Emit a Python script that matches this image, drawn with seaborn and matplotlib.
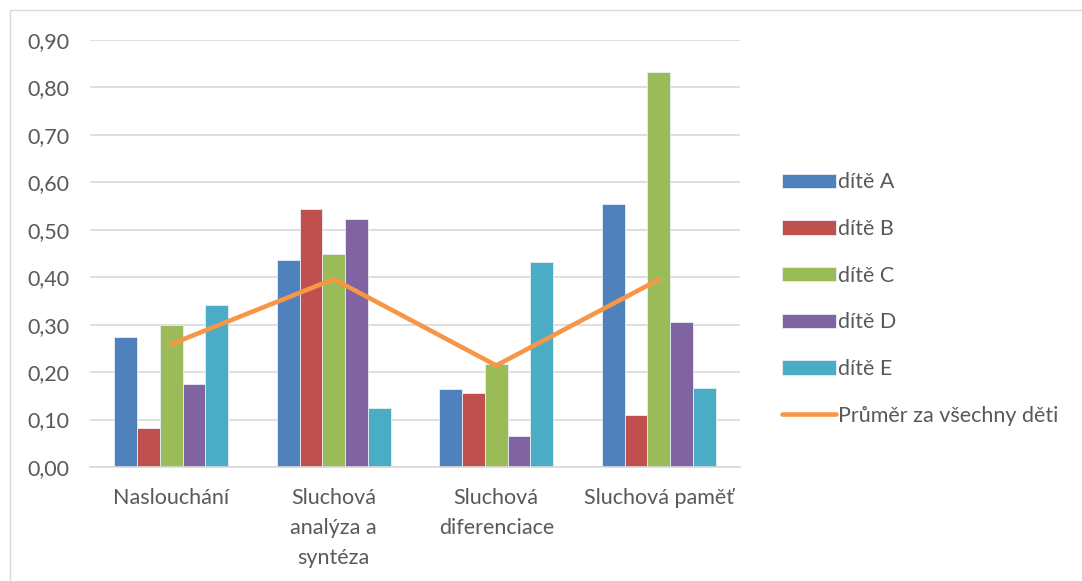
import numpy as np
import pandas as pd
import seaborn as sns
import matplotlib.pyplot as plt
from matplotlib.patches import Rectangle
from matplotlib.ticker import FuncFormatter

# data
kategorie = ["Naslouchání", "Sluchová\nanalýza a\nsyntéza", "Sluchová\ndiferenciace", "Sluchová paměť"]
deti = ["dítě A", "dítě B", "dítě C", "dítě D", "dítě E"]
dite_a = [0.274, 0.437, 0.165, 0.555]
dite_b = [0.082, 0.544, 0.155, 0.110]
dite_c = [0.299, 0.449, 0.218, 0.833]
dite_d = [0.174, 0.522, 0.065, 0.305]
dite_e = [0.341, 0.124, 0.432, 0.166]
prumer = [0.259, 0.396, 0.214, 0.395]

barvy = ["#4F81BD", "#C0504D", "#9BBB59", "#8064A2", "#4BACC6"]
barva_prumer = "#F79646"
text_barva = "#595959"
velikost = 15.5

rows = []
for dite, vals in zip(deti, [dite_a, dite_b, dite_c, dite_d, dite_e]):
    for kat, v in zip(kategorie, vals):
        rows.append({"kategorie": kat, "dite": dite, "hodnota": v})
df = pd.DataFrame(rows)

sns.set_style("white")
plt.rcParams['font.family'] = ['Lato', 'DejaVu Sans']

fig = plt.figure(figsize=(10.82, 5.81), dpi=100)
ax = fig.add_axes([90 / 1082, 1 - 467 / 581, 650 / 1082, 427 / 581])

sns.barplot(data=df, x="kategorie", y="hodnota", hue="dite", order=kategorie,
            hue_order=deti, palette=barvy, saturation=1, width=0.7,
            edgecolor="#e8eef5", linewidth=0.6, ax=ax, zorder=2)
sns.lineplot(x=np.arange(len(kategorie)), y=prumer, color=barva_prumer,
             linewidth=3.3, ax=ax, label="Průměr za všechny děti", zorder=3)

ax.set_xlim(-0.5, len(kategorie) - 0.5)
ax.set_ylim(0, 0.9)
ax.set_yticks(np.arange(0, 0.91, 0.1))
ax.yaxis.set_major_formatter(FuncFormatter(lambda v, p: f"{v:.2f}".replace(".", ",")))
ax.set_xticks(range(len(kategorie)))
ax.set_xticklabels(kategorie, linespacing=1.62)
ax.grid(axis="y", color="#D9D9D9", linewidth=1.2, zorder=0)
ax.set_axisbelow(True)
for s in ["top", "right", "left"]:
    ax.spines[s].set_visible(False)
ax.spines["bottom"].set_color("#D9D9D9")
ax.spines["bottom"].set_linewidth(1.2)
ax.tick_params(axis="both", length=0, labelsize=velikost, labelcolor=text_barva)
ax.tick_params(axis="y", pad=15)
ax.tick_params(axis="x", pad=15)
ax.set_xlabel("")
ax.set_ylabel("")

handles, labels = ax.get_legend_handles_labels()
ax.get_legend().remove()
order = [labels.index(l) for l in deti] + [labels.index("Průměr za všechny děti")]
leg = fig.legend([handles[i] for i in order], [labels[i] for i in order],
                 loc="center left", bbox_to_anchor=(763 / 1082, 1 - 299 / 581),
                 frameon=False, fontsize=velikost, labelspacing=1.24,
                 handlelength=2.5, handleheight=0.65, handletextpad=0.1)
for t in leg.get_texts():
    t.set_color(text_barva)

fig.patches.append(Rectangle((10 / 1082, -0.1), 1.2, 1 - 10 / 581 + 0.1,
                             transform=fig.transFigure, fill=False,
                             edgecolor="#D9D9D9", linewidth=1))

fig.savefig("out.png", dpi=100)
